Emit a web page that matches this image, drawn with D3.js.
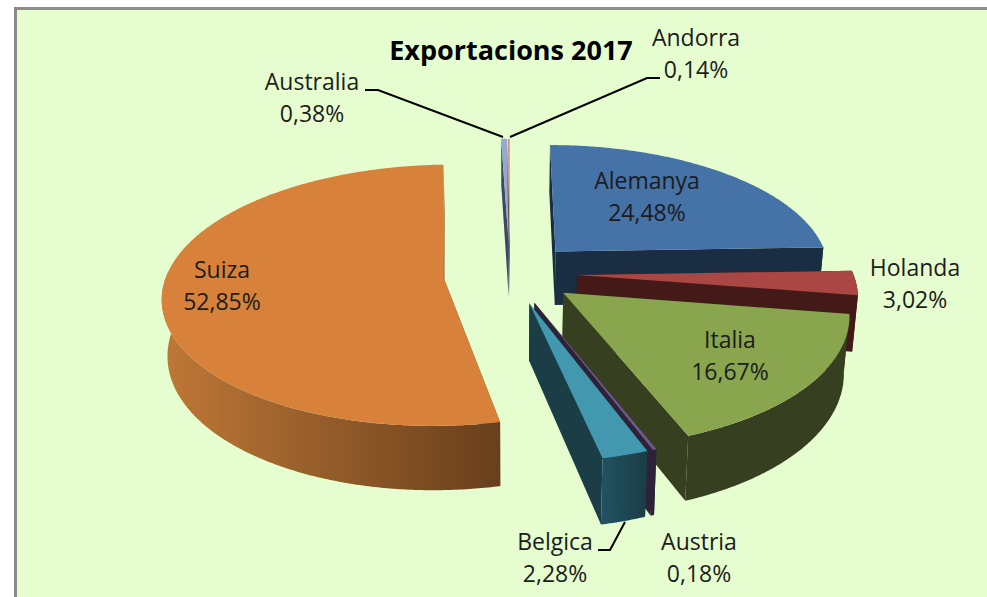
<!DOCTYPE html>
<html>
<head>
<meta charset="utf-8">
<script src="https://cdn.jsdelivr.net/npm/d3@7/dist/d3.min.js"></script>
<style>
html,body{margin:0;padding:0;background:#fff;overflow:hidden}
svg{display:block}
text{font-family:"Open Sans",sans-serif;fill:#1c1c1c}
</style>
</head>
<body>
<svg id="c" width="987" height="597"></svg>
<script>
// ---- data ----
const categories = ["Alemanya","Holanda","Italia","Austria","Belgica","Suiza","Australia","Andorra"];
const values = [24.48,3.02,16.67,0.18,2.28,52.85,0.38,0.14];
const title = "Exportacions 2017";

// ---- styles ----
const topColors = ["#4572a7","#aa4643","#89a54e","#71588f","#4198af","#d8813b","#93a9cf","#d19392"];
const wallColors = ["#1b2d43","#441a19","#363f1f","#2d2339","#1a3d46","#8f5a2a","#3a4a66","#5c3a3a"];
const drawOrder = ["Australia","Andorra","Alemanya","Holanda","Suiza","Italia","Austria","Belgica"];

// ---- layout ----
const W = 987, H = 597;
const cx = 510, cy = 273, R = 276, tilt = 0.46, depth = 55, explode = 67, persp = 1960;
const labelPos = {
  Alemanya:[647,189], Holanda:[915,276], Italia:[730,348], Suiza:[222,278],
  Belgica:[555,550], Austria:[699,550], Australia:[312,90], Andorra:[696,46]
};
const leaders = [
  [[365,90],[378,90],[503,137]],
  [[660,78],[647,78],[510,137]],
  [[598,550],[610,550],[625,522]]
];

const svg = d3.select("#c");
svg.append("rect").attr("width",W).attr("height",H).attr("fill","#fff");
svg.append("rect").attr("x",15.5).attr("y",8.5).attr("width",W+10).attr("height",H+10)
  .attr("fill","#e6fdcf").attr("stroke","#8c8c8c").attr("stroke-width",3);

const color = d3.scaleOrdinal(categories, topColors);
const wall = d3.scaleOrdinal(categories, wallColors);

// ground-plane point -> screen, with a simple perspective
function project(X, Y, Z) {
  const f = persp / (persp - Y);
  return [cx + X * f * (1 - 0.0003 * Z), cy + (Y * tilt + Z) * f];
}
const line = d3.line();

const arcs = d3.pie().sort(null).value(d => d.v).startAngle(0).endAngle(2 * Math.PI)(
  categories.map((n, i) => ({n, v: values[i]}))
);

const defs = svg.append("defs");
const chart = svg.append("g");

const sorted = drawOrder.map(n => arcs.find(a => a.data.n === n));
sorted.forEach(a => {
  const mid = (a.startAngle + a.endAngle) / 2;
  const ox = explode * Math.sin(mid), oy = -explode * Math.cos(mid);
  const pt = (t, r, z) => project(ox + r * Math.sin(t), oy - r * Math.cos(t), z);
  const n = Math.max(2, Math.ceil((a.endAngle - a.startAngle) / 0.01));
  const ts = d3.range(n + 1).map(i => a.startAngle + (a.endAngle - a.startAngle) * i / n);
  const rimTop = ts.map(t => pt(t, R, 0));
  const rimBot = ts.map(t => pt(t, R, depth));
  const apexTop = pt(0, 0, 0), apexBot = pt(0, 0, depth);
  const g = chart.append("g").attr("class", "slice").attr("data-name", a.data.n);

  // radial side walls
  [[rimTop[0], rimBot[0]], [rimTop[n], rimBot[n]]].forEach(([p, q]) => {
    g.append("path").attr("d", line([apexTop, p, q, apexBot]) + "Z")
      .attr("fill", wall(a.data.n));
  });

  // outer wall, only the part facing the viewer
  const front = ts.map((t, i) => i).filter(i => Math.cos(ts[i]) < 0.05);
  if (front.length > 1) {
    const tp = front.map(i => rimTop[i]), bt = front.map(i => rimBot[i]).reverse();
    let fill = wall(a.data.n);
    if (a.data.n === "Suiza") {
      const xs = tp.map(p => p[0]);
      const lg = defs.append("linearGradient").attr("id", "suizaWall")
        .attr("gradientUnits", "userSpaceOnUse")
        .attr("x1", d3.min(xs)).attr("x2", d3.max(xs)).attr("y1", 0).attr("y2", 0);
      lg.append("stop").attr("offset", 0).attr("stop-color", "#bf7836");
      lg.append("stop").attr("offset", 1).attr("stop-color", "#683f1c");
      fill = "url(#suizaWall)";
    }
    if (a.data.n === "Belgica") {
      const xs = tp.map(p => p[0]);
      const lg = defs.append("linearGradient").attr("id", "belgicaWall")
        .attr("gradientUnits", "userSpaceOnUse")
        .attr("x1", d3.min(xs)).attr("x2", d3.max(xs)).attr("y1", 0).attr("y2", 0);
      lg.append("stop").attr("offset", 0).attr("stop-color", "#215262");
      lg.append("stop").attr("offset", 1).attr("stop-color", "#1a3d46");
      fill = "url(#belgicaWall)";
    }
    g.append("path").attr("d", line(tp.concat(bt)) + "Z").attr("fill", fill);
  }

  // top face
  g.append("path").attr("d", line([apexTop].concat(rimTop)) + "Z").attr("fill", color(a.data.n));
});

// leader lines
leaders.forEach(l => {
  svg.append("path").attr("d", line(l)).attr("fill", "none")
    .attr("stroke", "#000").attr("stroke-width", 2);
});

// title
svg.append("text").attr("x", 511).attr("y", 60).attr("text-anchor", "middle")
  .attr("font-size", 27).attr("font-weight", 700).style("fill","#000").text(title);

// labels
const fmt = v => v.toFixed(2).replace(".", ",") + "%";
categories.forEach((n, i) => {
  const [x, y] = labelPos[n];
  const t = svg.append("text").attr("text-anchor", "middle").attr("font-size", 23);
  t.append("tspan").attr("x", x).attr("y", y).text(n);
  t.append("tspan").attr("x", x).attr("y", y + 32).text(fmt(values[i]));
});
</script>
</body>
</html>
